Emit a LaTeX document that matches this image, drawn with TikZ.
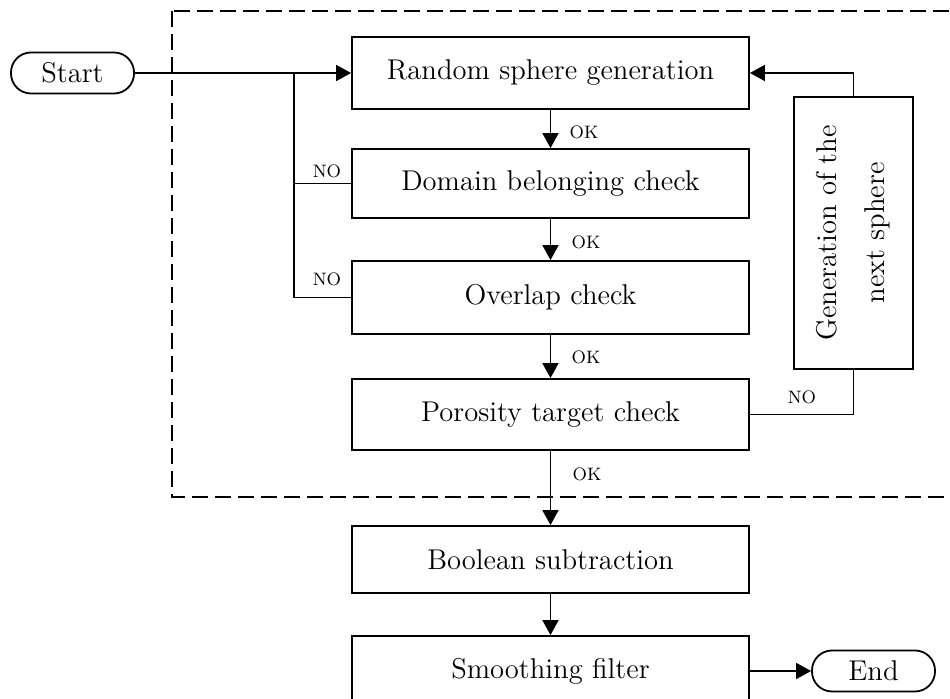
\documentclass[tikz,border=0pt]{standalone}
\usetikzlibrary{arrows.meta}
\begin{document}
\begin{tikzpicture}[x=0.5pt,y=-0.5pt,
  line width=0.9pt,
  every node/.style={inner sep=0pt},
  box/.style={draw,minimum width=198.5pt,font=\fontsize{14.3}{17}\selectfont},
  term/.style={draw,rounded corners=10pt,minimum width=61.5pt,minimum height=20.5pt,font=\fontsize{14.3}{17}\selectfont},
  lab/.style={font=\fontsize{9}{11}\selectfont},
  arr/.style={-{Triangle[length=7.5pt,width=8pt]}}]
\useasboundingbox (0,0) rectangle (950,699);
\draw[dash pattern=on 8pt off 3.5pt] (172,11) rectangle (960,497);
\node[term] (start) at (72.5,73) {Start};
\node[box,minimum height=36pt] (rand) at (550.5,73) {Random sphere generation};
\node[box,minimum height=34.5pt] (dom) at (550.5,183.5) {Domain belonging check};
\node[box,minimum height=36.5pt] (ovl) at (550.5,297.5) {Overlap check};
\node[box,minimum height=35.5pt] (por) at (550.5,414.5) {Porosity target check};
\node[box,minimum height=33.5pt] (bool) at (550.5,559.5) {Boolean subtraction};
\node[box,minimum height=35pt] (smooth) at (550.5,671) {Smoothing filter};
\node[term] (end) at (873.5,671) {End};
\node[draw,rotate=90,minimum width=136pt,minimum height=59.5pt,align=center,font=\fontsize{14.3}{24}\selectfont] (gen) at (853.5,233) {Generation of the\\next sphere};
\coordinate (jt) at (294,73);
\draw[arr] (start) -- (rand);
\draw (dom.west) -- (dom.west -| jt);
\draw (ovl.west) -| (jt);
\draw[arr] (rand) -- (dom);
\draw[arr] (dom) -- (ovl);
\draw[arr] (ovl) -- (por);
\draw[arr] (por) -- (bool);
\draw[arr] (bool) -- (smooth);
\draw[arr] (smooth) -- (end);
\draw[arr] (gen.east) |- (rand.east);
\draw (por.east) -| (gen.west);
\node[lab] (no1) at (327,171) {NO};
\node[lab] (no2) at (327,279) {NO};
\node[lab] (no3) at (802,397) {NO};
\node[lab] (ok1) at (584,132) {OK};
\node[lab] (ok2) at (586,242) {OK};
\node[lab] (ok3) at (586,357) {OK};
\node[lab] (ok4) at (587,474) {OK};
\end{tikzpicture}
\end{document}
